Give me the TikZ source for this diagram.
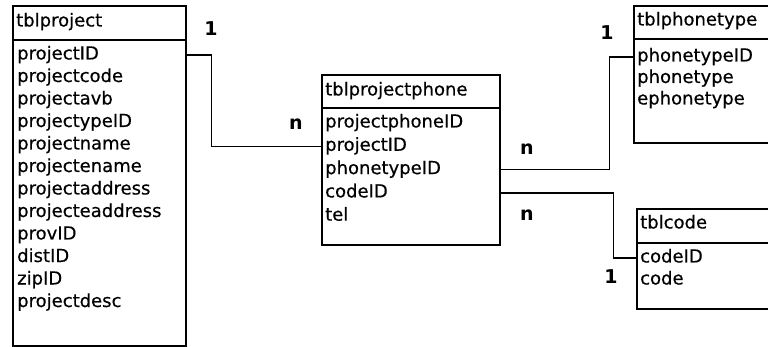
\documentclass[tikz,border=0pt]{standalone}
\usepackage{fontspec}
\setmainfont{DejaVu Sans}
\newfontfamily\heavyfont{DejaVu Sans}[BoldFont={DejaVu Sans}, BoldFeatures={FakeBold=0.5}]
\begin{document}
\begin{tikzpicture}[x=1pt,y=-1pt,
  tbl/.style={draw, line width=1.6pt, anchor=north west, inner sep=0pt},
  fld/.style={anchor=west, inner sep=0pt, text height=13.5pt, text depth=4.5pt, font=\heavyfont\bfseries\fontsize{18}{18}\selectfont},
  lnk/.style={line width=1.3pt},
  card/.style={inner sep=0pt, font=\bfseries\fontsize{19}{19}\selectfont}]
\useasboundingbox (0,0) rectangle (768,347);
\clip (0,0) rectangle (768,347);
% tblproject
\node[tbl, minimum width=173pt, minimum height=34pt] (projh) at (12,5) {};
\node[tbl, minimum width=173pt, minimum height=306pt] (proj) at (12,39) {};
\node[fld] (projt) at (16,22) {tblproject};
\node[fld] (p1) at (17,55) {projectID};
\node[fld] (p2) at (17,77.5) {projectcode};
\node[fld] (p3) at (17,100) {projectavb};
\node[fld] (p4) at (17,122.5) {projectypeID};
\node[fld] (p5) at (17,145) {projectname};
\node[fld] (p6) at (17,167.5) {projectename};
\node[fld] (p7) at (17,190) {projectaddress};
\node[fld] (p8) at (17,212.5) {projecteaddress};
\node[fld] (p9) at (17,235) {provID};
\node[fld] (p10) at (17,257.5) {distID};
\node[fld] (p11) at (17,280) {zipID};
\node[fld] (p12) at (17,302.5) {projectdesc};
% tblprojectphone
\node[tbl, minimum width=178pt, minimum height=33pt] (pph) at (321,74) {};
\node[tbl, minimum width=178pt, minimum height=137pt] (pp) at (321,107) {};
\node[fld] (ppt) at (325,91) {tblprojectphone};
\node[fld] (pp1) at (325,123) {projectphoneID};
\node[fld] (pp2) at (325,146.3) {projectID};
\node[fld] (pp3) at (325,169.6) {phonetypeID};
\node[fld] (pp4) at (325,192.9) {codeID};
\node[fld] (pp5) at (325,216.2) {tel};
% tblphonetype
\node[tbl, minimum width=160pt, minimum height=33pt] (pth) at (633,5) {};
\node[tbl, minimum width=160pt, minimum height=104pt] (pt) at (633,38) {};
\node[fld] (ptt) at (637,21) {tblphonetype};
\node[fld] (pt1) at (637,57) {phonetypeID};
\node[fld] (pt2) at (637,78.5) {phonetype};
\node[fld] (pt3) at (637,100) {ephonetype};
% tblcode
\node[tbl, minimum width=160pt, minimum height=34pt] (cdh) at (636,208) {};
\node[tbl, minimum width=160pt, minimum height=66pt] (cd) at (636,242) {};
\node[fld] (cdt) at (640,224) {tblcode};
\node[fld] (cd1) at (640,258) {codeID};
\node[fld] (cd2) at (640,280) {code};
% connectors
\draw[lnk] (proj.east |- p1) -- ++(25,0) |- (pp.west |- pp2);
\draw[lnk] (pp.east |- pp3) -- ++(109,0) |- (pt.west |- pt1);
\draw[lnk] (pp.east |- pp4) -- ++(113,0) |- (cd.west |- cd1);
% cardinalities
\node[card] (c1) at (211,29) {1};
\node[card] (c2) at (296,124) {n};
\node[card] (c3) at (527,149) {n};
\node[card] (c4) at (607,33) {1};
\node[card] (c5) at (527,215) {n};
\node[card] (c6) at (611,277) {1};
\end{tikzpicture}
\end{document}
